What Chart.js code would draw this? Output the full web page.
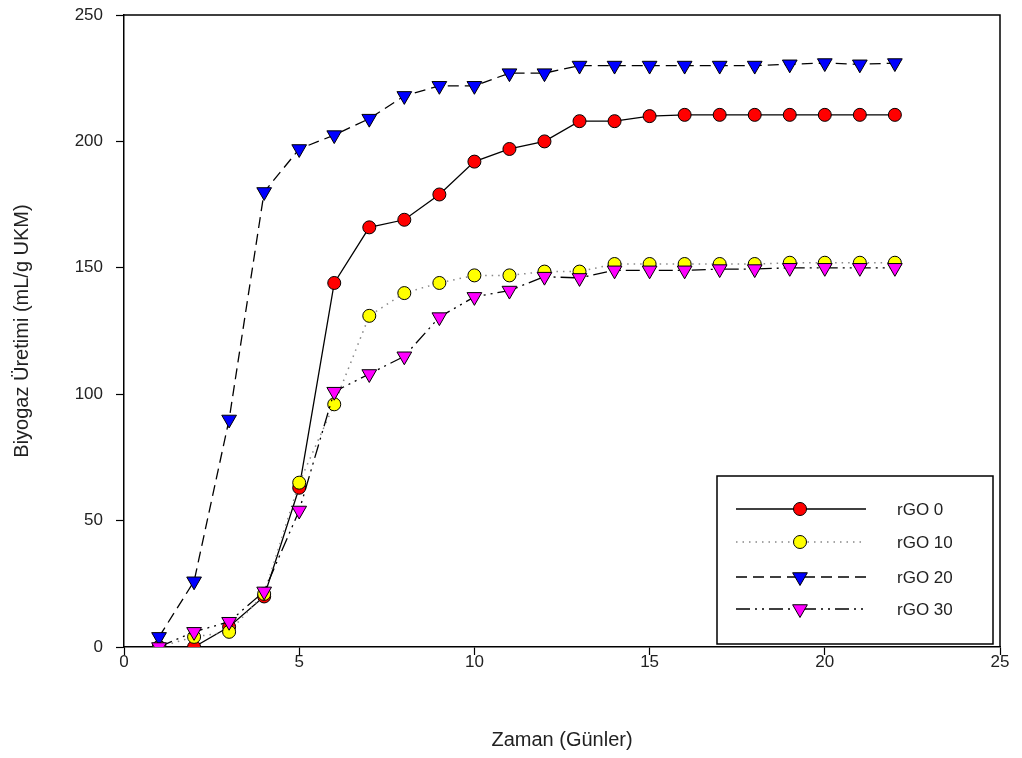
<!DOCTYPE html>
<html>
<head>
<meta charset="utf-8">
<script src="https://cdn.jsdelivr.net/npm/chart.js@4/dist/chart.umd.min.js"></script>
<style>
  html, body { margin: 0; padding: 0; background: #fff; }
  #wrap { width: 1022px; height: 758px; }
</style>
</head>
<body>
<div id="wrap"><canvas id="biogasChart"></canvas></div>
<script>
// Days and cumulative biogas (mL/g UKM)
const days = [1, 2, 3, 4, 5, 6, 7, 8, 9, 10, 11, 12, 13, 14, 15, 16, 17, 18, 19, 20, 21, 22];
const rgo0  = [0, 0, 8, 20, 63, 144, 166, 169, 179, 192, 197, 200, 208, 208, 210, 210.5, 210.5, 210.5, 210.5, 210.5, 210.5, 210.5];
const rgo10 = [0, 4, 6, 21, 65, 96, 131, 140, 144, 147, 147, 148.5, 148.5, 151.5, 151.5, 151.5, 151.5, 151.5, 152, 152, 152, 152];
const rgo20 = [4, 26, 90, 180, 197, 202.5, 209, 218, 222, 222, 227, 227, 230, 230, 230, 230, 230, 230, 230.5, 231, 230.5, 231];
const rgo30 = [0, 6, 10, 22, 54, 101, 108, 115, 130.5, 138.5, 141, 146.5, 146, 149, 149, 149, 149.5, 149.5, 150, 150, 150, 150];
const seriesNames = ["rGO 0", "rGO 10", "rGO 20", "rGO 30"];
const xTicks = [0, 5, 10, 15, 20, 25];
const yTicks = [0, 50, 100, 150, 200, 250];

const FONT = "'Liberation Sans', Arial, sans-serif";
const TEXT = "#222";

function pts(values) {
  return days.map((d, i) => ({ x: d, y: values[i] }));
}

// frame on top/right plus the boxed legend in the lower right
const frameAndLegend = {
  id: "frameAndLegend",
  afterDraw(chart) {
    const ctx = chart.ctx;
    const a = chart.chartArea;
    ctx.save();
    ctx.strokeStyle = "#000";
    ctx.lineWidth = 1.5;
    ctx.beginPath();
    ctx.moveTo(a.left, a.top);
    ctx.lineTo(a.right, a.top);
    ctx.lineTo(a.right, a.bottom);
    ctx.stroke();

    // legend box
    const bx = 717, by = 476, bw = 276, bh = 168;
    ctx.lineWidth = 1.5;
    ctx.fillStyle = "#fff";
    ctx.fillRect(bx, by, bw, bh);
    ctx.strokeRect(bx, by, bw, bh);

    const rows = [509, 542, 577, 609];
    chart.data.datasets.forEach((ds, i) => {
      const y = rows[i];
      ctx.save();
      ctx.strokeStyle = ds.borderColor;
      ctx.lineWidth = ds.borderWidth;
      ctx.setLineDash(ds.borderDash || []);
      ctx.beginPath();
      ctx.moveTo(736, y);
      ctx.lineTo(866, y);
      ctx.stroke();
      ctx.restore();

      // marker
      const mx = 800, r = ds.pointRadius;
      ctx.save();
      ctx.fillStyle = ds.pointBackgroundColor;
      ctx.strokeStyle = "#000";
      ctx.lineWidth = 1;
      ctx.beginPath();
      if (ds.pointStyle === "circle") {
        ctx.arc(mx, y, r, 0, Math.PI * 2);
      } else {
        const s = r * Math.sqrt(3) / 2;
        ctx.moveTo(mx - s, y - r / 2);
        ctx.lineTo(mx + s, y - r / 2);
        ctx.lineTo(mx, y + r);
        ctx.closePath();
      }
      ctx.fill();
      ctx.stroke();
      ctx.restore();

      ctx.fillStyle = TEXT;
      ctx.font = "17px " + FONT;
      ctx.textBaseline = "middle";
      ctx.textAlign = "left";
      ctx.fillText(ds.label, 897, y + 1);
    });
    ctx.restore();
  }
};

const ctx = document.getElementById("biogasChart").getContext("2d");

new Chart(ctx, {
  type: "line",
  data: {
    datasets: [
      {
        label: seriesNames[0],
        data: pts(rgo0),
        order: 4,
        borderColor: "#000",
        borderWidth: 1.3,
        pointStyle: "circle",
        pointRadius: 6.5,
        pointBackgroundColor: "#ff0000",
        pointBorderColor: "#000",
        pointBorderWidth: 1,
      },
      {
        label: seriesNames[1],
        data: pts(rgo10),
        order: 3,
        borderColor: "#888",
        borderWidth: 1.5,
        borderDash: [1.5, 5],
        pointStyle: "circle",
        pointRadius: 6.5,
        pointBackgroundColor: "#ffff00",
        pointBorderColor: "#000",
        pointBorderWidth: 1,
      },
      {
        label: seriesNames[2],
        data: pts(rgo20),
        order: 2,
        borderColor: "#000",
        borderWidth: 1.3,
        borderDash: [11, 6],
        pointStyle: "triangle",
        pointRotation: 180,
        pointRadius: 8.5,
        pointBackgroundColor: "#0000ff",
        pointBorderColor: "#000",
        pointBorderWidth: 1,
      },
      {
        label: seriesNames[3],
        data: pts(rgo30),
        order: 1,
        borderColor: "#000",
        borderWidth: 1.3,
        borderDash: [14, 5, 2, 5, 2, 5],
        pointStyle: "triangle",
        pointRotation: 180,
        pointRadius: 8.5,
        pointBackgroundColor: "#ff00ff",
        pointBorderColor: "#000",
        pointBorderWidth: 1,
      },
    ],
  },
  options: {
    responsive: true,
    maintainAspectRatio: false,
    animation: false,
    layout: { padding: { left: 10, right: 22, top: 15, bottom: 0 } },
    plugins: {
      legend: { display: false },
      tooltip: { enabled: false },
    },
    scales: {
      x: {
        type: "linear",
        min: 0,
        max: 25,
        afterBuildTicks(scale) {
          scale.ticks = xTicks.map((v) => ({ value: v }));
        },
        afterFit(scale) {
          scale.height = 111;
        },
        grid: {
          drawOnChartArea: false,
          drawTicks: true,
          tickLength: 8,
          tickColor: "#000",
          tickWidth: 1.2,
        },
        border: { display: true, color: "#000", width: 1.5 },
        ticks: {
          color: TEXT,
          font: { family: FONT, size: 17 },
          padding: -3,
          maxRotation: 0,
        },
        title: {
          display: true,
          text: "Zaman (Günler)",
          color: TEXT,
          font: { family: FONT, size: 20 },
          padding: { top: 0, bottom: 6 },
        },
      },
      y: {
        type: "linear",
        min: 0,
        max: 250,
        afterBuildTicks(scale) {
          scale.ticks = yTicks.map((v) => ({ value: v }));
        },
        afterFit(scale) {
          scale.width = 114;
          scale.paddingTop = 0;
          scale.paddingBottom = 0;
        },
        grid: {
          drawOnChartArea: false,
          drawTicks: true,
          tickLength: 8,
          tickColor: "#000",
          tickWidth: 1.2,
        },
        border: { display: true, color: "#000", width: 1.5 },
        ticks: {
          color: TEXT,
          font: { family: FONT, size: 17 },
          padding: 13,
        },
        title: {
          display: true,
          text: "Biyogaz Üretimi (mL/g UKM)",
          color: TEXT,
          font: { family: FONT, size: 20 },
          padding: { top: 0, bottom: 0 },
        },
      },
    },
  },
  plugins: [frameAndLegend],
});
</script>
</body>
</html>
